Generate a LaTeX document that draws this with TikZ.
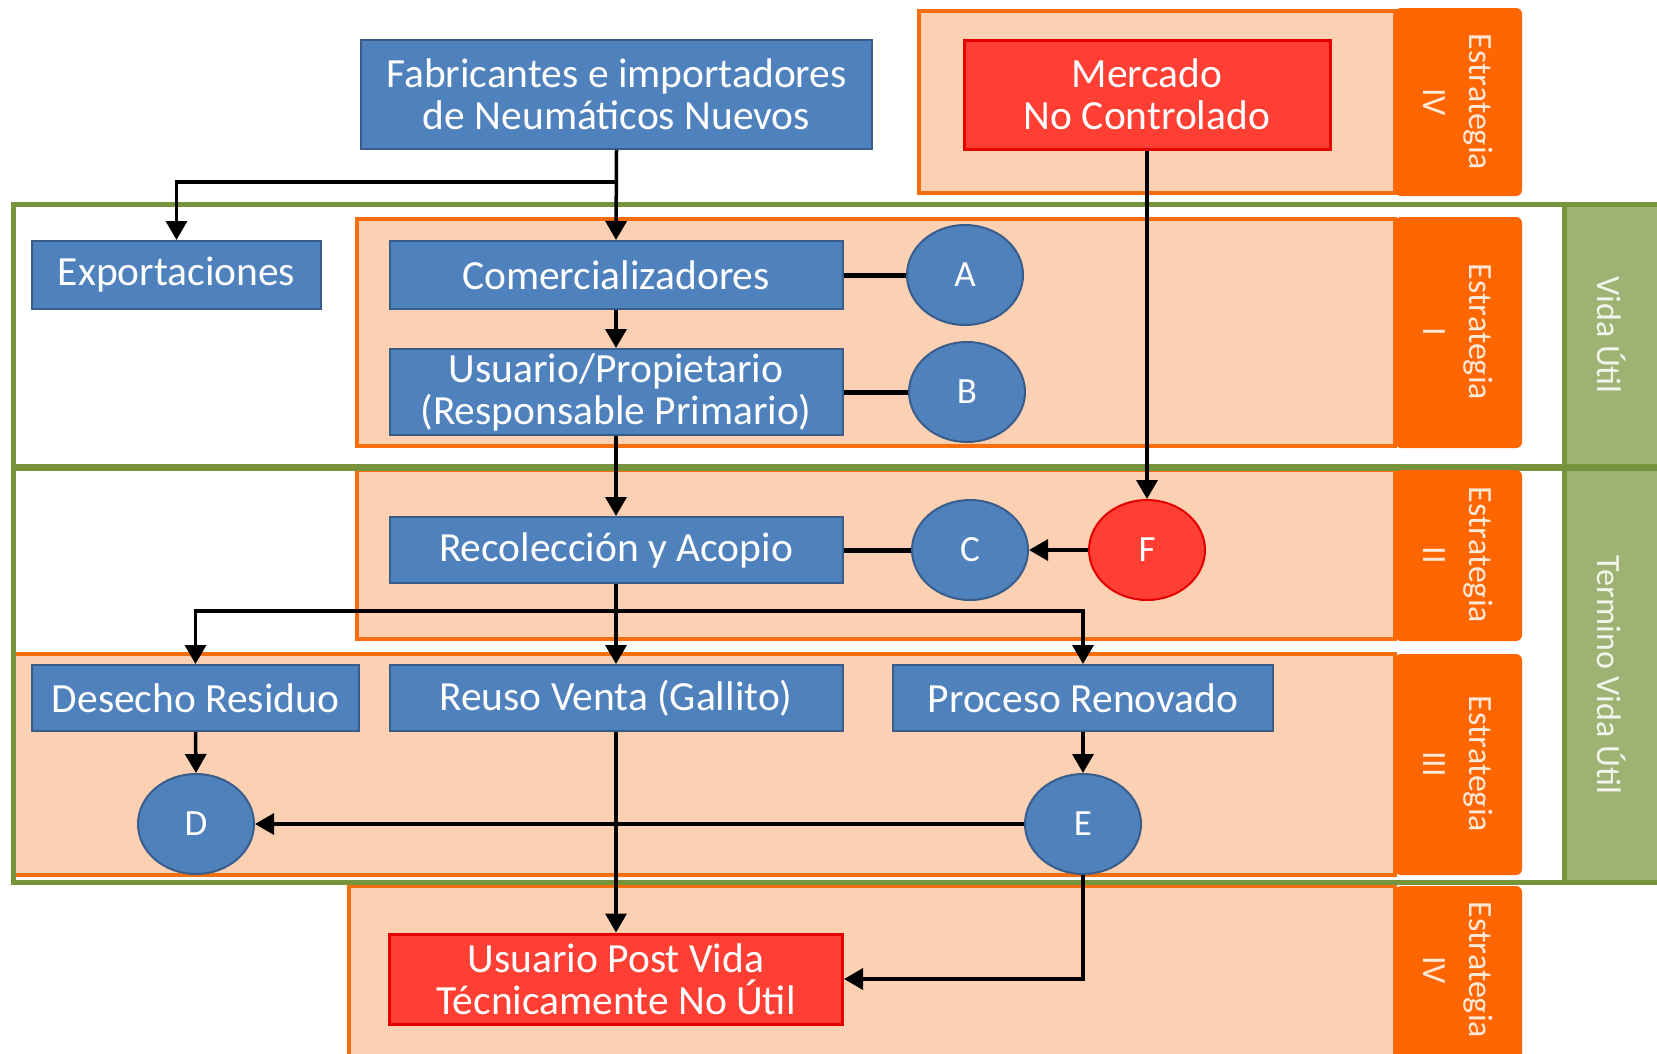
\documentclass[tikz,border=0pt]{standalone}
\usepackage{fontspec}
\setmainfont{Carlito}
\usetikzlibrary{arrows.meta,shapes.geometric}

\definecolor{boxblue}{RGB}{79,129,189}
\definecolor{boxblueline}{RGB}{56,93,138}
\definecolor{alertred}{RGB}{255,62,52}
\definecolor{alertline}{RGB}{228,0,0}
\definecolor{peach}{RGB}{252,208,178}
\definecolor{orangeline}{RGB}{246,110,14}
\definecolor{taborange}{RGB}{255,102,0}
\definecolor{tabtext}{RGB}{253,233,217}
\definecolor{greenline}{RGB}{119,147,60}
\definecolor{greenfill}{RGB}{158,179,115}
\definecolor{greentext}{RGB}{242,245,234}

\tikzset{
  bluebox/.style={draw=boxblueline, line width=2pt, fill=boxblue, text=white,
    font=\fontsize{41.5}{42}\selectfont, align=center, inner sep=0pt},
  redbox/.style={draw=alertline, line width=3pt, fill=alertred, text=white,
    font=\fontsize{41.5}{42}\selectfont, align=center, inner sep=0pt},
  bluedot/.style={ellipse, draw=boxblueline, line width=2pt, fill=boxblue, text=white,
    minimum width=116pt, minimum height=100pt, inner sep=0pt,
    font=\fontsize{37}{38}\selectfont},
  reddot/.style={bluedot, draw=alertline, fill=alertred},
  panel/.style={draw=orangeline, line width=4pt, fill=peach},
  stratab/.style={fill=taborange, rounded corners=6pt},
  tablabel/.style={rotate=-90, text=tabtext, align=center,
    font=\fontsize{34}{46}\selectfont},
  lifeframe/.style={draw=greenline, line width=5pt},
  lifetab/.style={draw=greenline, line width=5pt, fill=greenfill},
  lifelabel/.style={rotate=-90, text=greentext, font=\fontsize{34}{40}\selectfont},
  arr/.style={line width=3.5pt, -{Triangle[length=19pt,width=21pt]}},
  link/.style={line width=5pt},
}

\begin{document}
\begin{tikzpicture}[x=1pt,y=-1pt]
\useasboundingbox (0,0) rectangle (1657,1053);
\fill[white] (0,0) rectangle (1657,1053);

% strategy panels
\draw[panel] (919,11) rectangle (1395,193);
\draw[panel] (357,219) rectangle (1395,446);
\draw[panel] (357,470) rectangle (1395,639);
\draw[panel] (13,654) rectangle (1395,875);
\draw[panel] (349,886) rectangle (1395,1070);

% life-cycle frames
\draw[lifeframe] (13,204) rectangle (1670,466);
\draw[lifetab] (1564,204) rectangle (1670,466);
\draw[lifeframe] (13,468) rectangle (1670,882);
\draw[lifetab] (1564,468) rectangle (1670,882);
\node[lifelabel] (vida) at (1612,335) {Vida Útil};
\node[lifelabel] (termino) at (1612,675) {Termino Vida Útil};

% strategy tabs
\fill[stratab] (1395,8) rectangle (1522,196);
\fill[stratab] (1395,217) rectangle (1522,448);
\fill[stratab] (1395,470) rectangle (1522,641);
\fill[stratab] (1395,654) rectangle (1522,875);
\fill[stratab] (1395,886) rectangle (1522,1070);
\node[tablabel] (e4a) at (1458,102) {Estrategia\\IV};
\node[tablabel] (e1) at (1458,332) {Estrategia\\I};
\node[tablabel] (e2) at (1458,555) {Estrategia\\II};
\node[tablabel] (e3) at (1458,764) {Estrategia\\III};
\node[tablabel] (e4b) at (1458,970) {Estrategia\\IV};

% boxes
\node[bluebox, minimum width=511pt, minimum height=109pt] (fab) at (616.5,94.5)
  {Fabricantes e importadores\\de Neumáticos Nuevos};
\node[redbox, minimum width=366pt, minimum height=109pt] (merc) at (1147,94.5)
  {Mercado\\No Controlado};
\node[bluebox, minimum width=289pt, minimum height=68pt] (exp) at (176.5,275) {Exportaciones};
\node[bluebox, minimum width=453pt, minimum height=68pt] (com) at (616,275) {Comercializadores};
\node[bluebox, minimum width=453pt, minimum height=86pt] (usu) at (616,392)
  {Usuario/Propietario\\(Responsable Primario)};
\node[bluebox, minimum width=453pt, minimum height=66pt] (rec) at (616,550) {Recolección y Acopio};
\node[bluebox, minimum width=327pt, minimum height=66pt] (des) at (195.5,698) {Desecho Residuo};
\node[bluebox, minimum width=453pt, minimum height=66pt] (reu) at (616,698) {Reuso Venta (Gallito)};
\node[bluebox, minimum width=380pt, minimum height=66pt] (pro) at (1083,698) {Proceso Renovado};
\node[redbox, minimum width=453pt, minimum height=90pt] (post) at (616,979)
  {Usuario Post Vida\\Técnicamente No Útil};

% markers
\node[bluedot] (A) at (965,275) {A};
\node[bluedot] (B) at (967,392) {B};
\node[bluedot] (C) at (970,550) {C};
\node[reddot] (F) at (1147,550) {F};
\node[bluedot] (D) at (196,824) {D};
\node[bluedot] (E) at (1083,824) {E};

% connectors
\coordinate (split1) at (616,182);
\coordinate (split2) at (616,611);
\draw[arr] (fab.south) -- (com.north);
\draw[arr] (split1) -| (exp.north);
\draw[arr] (merc.south) -- (F.north);
\draw[arr] (com.south) -- (usu.north);
\draw[arr] (usu.south) -- (rec.north);
\draw[arr] (rec.south) -- (reu.north);
\draw[arr] (split2) -| (des.north);
\draw[arr] (split2) -| (pro.north);
\draw[arr] (des.south) -- (D.north);
\draw[arr] (pro.south) -- (E.north);
\draw[arr] (E.west) -- (D.east);
\draw[arr] (reu.south) -- (post.north);
\draw[arr] (E.south) |- (post.east);
\draw[arr] (F.west) -- (C.east);
\draw[link] (com.east) -- (A.west);
\draw[link] (usu.east) -- (B.west);
\draw[link] (rec.east) -- (C.west);
\end{tikzpicture}
\end{document}
